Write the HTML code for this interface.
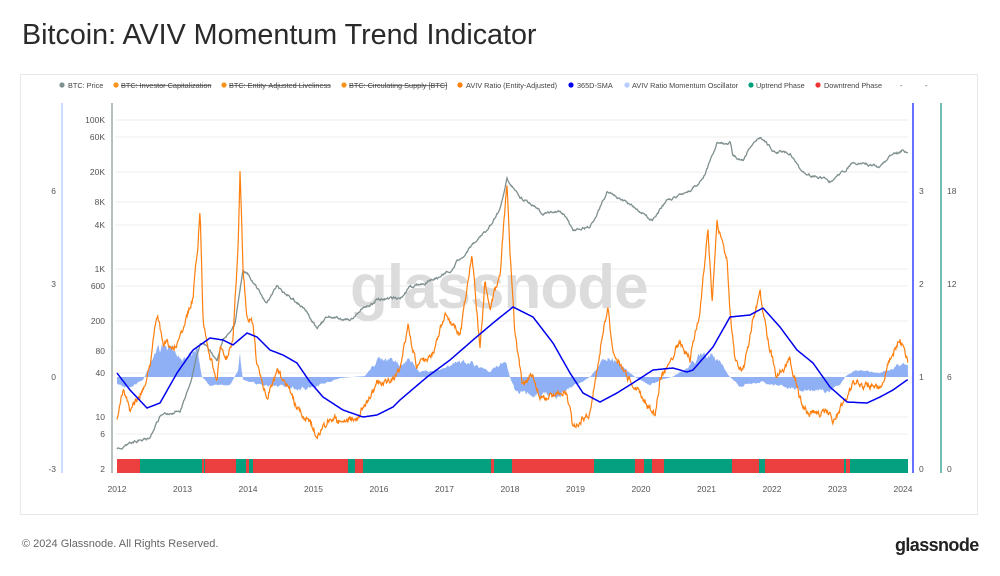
<!DOCTYPE html>
<html><head><meta charset="utf-8">
<style>
body{margin:0;width:1000px;height:576px;background:#fff;font-family:"Liberation Sans",sans-serif;overflow:hidden;position:relative}
.title{position:absolute;left:22px;top:19px;font-size:28.7px;color:#2a2a2a}
.card{position:absolute;left:20px;top:74px;width:958px;height:441px;border:1px solid #e8e8e8;box-sizing:border-box}
.foot{position:absolute;left:22px;top:538px;font-size:11px;color:#666}
.logo{position:absolute;left:895px;top:535px;font-size:18px;color:#222;font-weight:bold;letter-spacing:-0.6px}
svg{position:absolute;left:0;top:0}
</style></head><body>
<div class="title">Bitcoin: AVIV Momentum Trend Indicator</div>
<div class="card"></div>
<div class="foot">© 2024 Glassnode. All Rights Reserved.</div>
<div class="logo">glassnode</div>
<svg id="s" width="1000" height="576" font-family="Liberation Sans, sans-serif" font-size="8.5" fill="#555">
<g id="legend" font-size="7.3" fill="#444">
<circle cx="62" cy="85" r="2.6" fill="#7f8f8f"/><text x="68" y="88">BTC: Price</text>
<circle cx="116" cy="85" r="2.6" fill="#f7931a"/><text x="121" y="88" text-decoration="line-through">BTC: Investor Capitalization</text>
<circle cx="224" cy="85" r="2.6" fill="#f7931a"/><text x="229" y="88" text-decoration="line-through">BTC: Entity-Adjusted Liveliness</text>
<circle cx="344" cy="85" r="2.6" fill="#f7931a"/><text x="349" y="88" text-decoration="line-through">BTC: Circulating Supply [BTC]</text>
<circle cx="460" cy="85" r="2.6" fill="#ff7f0e"/><text x="466" y="88">AVIV Ratio (Entity-Adjusted)</text>
<circle cx="571" cy="85" r="2.6" fill="#0000ee"/><text x="577" y="88">365D-SMA</text>
<circle cx="627" cy="85" r="2.6" fill="#b8ccff"/><text x="632" y="88">AVIV Ratio Momentum Oscillator</text>
<circle cx="751" cy="85" r="2.6" fill="#00a07a"/><text x="756" y="88">Uptrend Phase</text>
<circle cx="818" cy="85" r="2.6" fill="#ee3333"/><text x="824" y="88">Downtrend Phase</text>
<text x="900" y="88">-</text><text x="925" y="88">-</text>
</g>
<g id="grid" stroke="#ececec" stroke-width="1"></g>
<text x="350" y="308" font-size="62" fill="#dcdcdc" font-weight="bold" letter-spacing="-1">glassnode</text>
<line x1="62" y1="103" x2="62" y2="473" stroke="#b8d0ff" stroke-width="1.5"/>
<line x1="112" y1="103" x2="112" y2="473" stroke="#a0aaaa" stroke-width="1.5"/>
<line x1="913" y1="103" x2="913" y2="473" stroke="#3344ff" stroke-width="1.5"/>
<line x1="941" y1="103" x2="941" y2="473" stroke="#44aa99" stroke-width="1.5"/>
<g id="labels"></g>
<g id="bars"></g>
<path id="osc" fill="#8fb0f5" stroke="none"/>
<path id="price" fill="none" stroke="#7f8f8f" stroke-width="1.3"/>
<path id="aviv" fill="none" stroke="#ff7f0e" stroke-width="1.2"/>
<path id="sma" fill="none" stroke="#0000ee" stroke-width="1.5"/>
</svg>
<script>
var NS="http://www.w3.org/2000/svg";
function el(p,t,a,txt){var e=document.createElementNS(NS,t);for(var k in a)e.setAttribute(k,a[k]);if(txt!=null)e.textContent=txt;document.getElementById(p).appendChild(e);return e;}
var pt=[["100K",120],["60K",137],["20K",172],["8K",202],["4K",225],["1K",269],["600",286],["200",321],["80",351],["40",373],["10",417],["6",434],["2",469]];
pt.forEach(function(a){el("grid","line",{x1:115,x2:908,y1:a[1],y2:a[1]});el("labels","text",{x:105,y:a[1]+3,"text-anchor":"end"},a[0]);});
[["6",191],["3",284],["0",377],["-3",469]].forEach(function(a){el("labels","text",{x:56,y:a[1]+3,"text-anchor":"end"},a[0]);});
[["3",191],["2",284],["1",377],["0",469]].forEach(function(a){el("labels","text",{x:919,y:a[1]+3},a[0]);});
[["18",191],["12",284],["6",377],["0",469]].forEach(function(a){el("labels","text",{x:947,y:a[1]+3},a[0]);});
for(var i=0;i<13;i++){el("labels","text",{x:117+i*65.5,y:492,"text-anchor":"middle"},String(2012+i));}
var seg=[[117,140,"r"],[140,202,"g"],[202,204,"r"],[204,205,"g"],[205,236,"r"],[236,246,"g"],[246,249,"r"],[249,253,"g"],[253,348,"r"],[348,355,"g"],[355,363,"r"],[363,491,"g"],[491,494,"r"],[494,512,"g"],[512,594,"r"],[594,635,"g"],[635,644,"r"],[644,652,"g"],[652,664,"r"],[664,732,"g"],[732,759,"r"],[759,765,"g"],[765,844,"r"],[844,846,"g"],[846,850,"r"],[850,908,"g"]];
seg.forEach(function(s){el("bars","rect",{x:s[0],y:459,width:s[1]-s[0],height:14,fill:s[2]=="g"?"#04a080":"#ec4040"});});
var seed=7;function rnd(){seed=(seed*16807)%2147483647;return seed/2147483647;}
function interp(k,x){for(var i=0;i<k.length-1;i++){if(x<=k[i+1][0]){var t=(x-k[i][0])/(k[i+1][0]-k[i][0]);return k[i][1]+t*(k[i+1][1]-k[i][1]);}}return k[k.length-1][1];}
var PK=[[117,450],[130,443],[143,440],[150,437],[160,417],[180,410],[190,383],[200,343],[210,350],[217,360],[223,340],[235,323],[243,270],[250,277],[267,303],[277,287],[290,297],[303,307],[317,327],[327,317],[350,320],[363,307],[377,300],[403,297],[410,287],[433,280],[450,270],[470,247],[487,230],[500,210],[507,178],[520,197],[543,213],[563,213],[573,230],[590,227],[607,192],[633,207],[653,220],[667,200],[687,193],[703,180],[717,143],[730,143],[733,157],[743,160],[750,147],[760,138],[773,150],[790,153],[803,173],[820,177],[830,182],[843,172],[853,163],[880,167],[890,157],[903,150],[908,153]];
var SK=[[117,373],[130,390],[147,408],[160,403],[177,373],[193,350],[210,338],[223,340],[233,345],[247,333],[257,337],[270,350],[283,355],[297,363],[310,382],[323,397],[343,410],[363,417],[377,415],[393,407],[400,400],[427,377],[450,360],[473,340],[493,323],[513,307],[533,317],[553,343],[570,373],[583,393],[600,402],[617,393],[633,383],[653,370],[673,368],[687,372],[693,370],[713,347],[730,317],[750,315],[763,308],[780,327],[797,350],[813,363],[830,387],[847,402],[867,403],[880,397],[893,390],[907,380]];
var AK=[[117,417],[123,390],[130,410],[143,390],[150,363],[157,313],[163,343],[173,347],[180,340],[193,297],[198,243],[200,210],[203,317],[210,357],[217,380],[220,350],[227,357],[233,337],[238,250],[240,170],[243,267],[247,317],[253,323],[257,367],[267,397],[277,373],[287,383],[297,410],[310,423],[317,437],[330,417],[343,423],[357,417],[367,403],[377,383],[387,383],[400,370],[408,327],[417,367],[433,353],[445,313],[460,337],[472,253],[480,350],[485,280],[490,307],[500,273],[507,183],[510,253],[515,337],[523,387],[533,373],[540,400],[567,393],[573,427],[590,413],[600,350],[608,307],[613,353],[627,377],[640,393],[655,417],[660,380],[680,343],[690,360],[700,310],[708,230],[712,303],[717,223],[727,260],[730,313],[735,360],[743,373],[753,320],[760,293],[767,337],[777,377],[790,360],[800,397],[807,413],[827,413],[833,420],[847,397],[853,383],[880,387],[890,360],[900,340],[908,360]];
var OK=[[117,384],[130,387],[143,380],[150,365],[157,350],[167,345],[177,358],[187,358],[197,346],[202,377],[210,385],[230,386],[238,370],[240,356],[243,380],[257,384],[280,386],[300,390],[317,386],[340,378],[365,376],[373,366],[380,358],[400,364],[410,359],[420,372],[440,370],[455,364],[470,362],[490,372],[500,363],[505,360],[510,377],[515,392],[540,395],[560,395],[575,385],[590,377],[600,365],[607,356],[620,364],[635,377],[650,385],[660,380],[672,377],[685,370],[700,356],[710,355],[720,362],[730,377],[740,386],[760,382],[770,384],[790,388],[800,390],[830,390],[840,385],[845,377],[855,370],[880,373],[900,365],[908,366]];
var P="",A="",S="",O="M117 377",npP=0,npA=0,npO=0;
for(var x=117;x<=908;x+=0.6){
 npP=npP*0.8+(rnd()-0.5)*2.0;
 npA=npA*0.55+(rnd()-0.5)*6;
 npO=npO*0.7+(rnd()-0.5)*2;
 var yp=interp(PK,x)+npP, ya=interp(AK,x)+npA, yy=interp(SK,x), yo=interp(OK,x);
 yo=377+(yo-377)*(1+npO*0.12);
 P+=(P?"L":"M")+x.toFixed(1)+" "+yp.toFixed(1);
 A+=(A?"L":"M")+x.toFixed(1)+" "+ya.toFixed(1);
 S+=(S?"L":"M")+x.toFixed(1)+" "+yy.toFixed(1);
 O+="L"+x.toFixed(1)+" "+yo.toFixed(1);
}
O+="L908 377Z";
document.getElementById("price").setAttribute("d",P);
document.getElementById("aviv").setAttribute("d",A);
document.getElementById("sma").setAttribute("d",S);
document.getElementById("osc").setAttribute("d",O);
</script>
</body></html>
